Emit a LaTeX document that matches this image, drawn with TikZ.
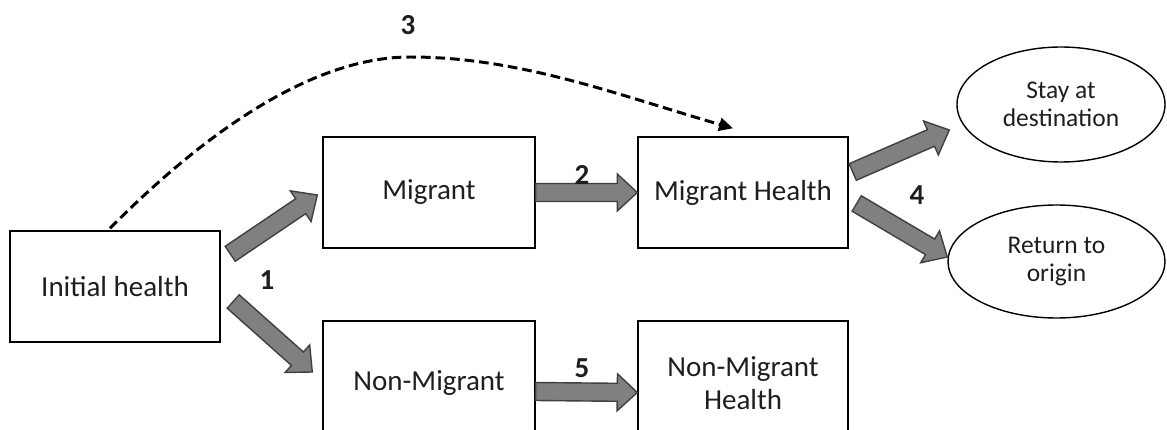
\documentclass[tikz,border=0pt]{standalone}
\usepackage{fontspec}
\setmainfont{Carlito}
\usepackage{tikz}
\usetikzlibrary{arrows.meta,positioning,calc,shapes.geometric}
\usepackage{xcolor}
\definecolor{arrowfill}{RGB}{128,128,128}
\definecolor{arrowline}{RGB}{64,64,64}
\definecolor{textgray}{RGB}{30,30,30}

\newcommand{\fatarrow}[2]{%
  \coordinate (fa-h) at ($(#2)!0.4cm!(#1)$);
  \draw[fat] ($(#1)!0.18cm!90:(#2)$) -- ($(fa-h)!0.18cm!90:(#2)$) -- ($(fa-h)!0.37cm!90:(#2)$) -- (#2)
    -- ($(fa-h)!0.37cm!-90:(#2)$) -- ($(fa-h)!0.18cm!-90:(#2)$) -- ($(#1)!0.18cm!-90:(#2)$) -- cycle;
}

\begin{document}
\begin{tikzpicture}[
    box/.style={draw,line width=0.8pt,minimum width=4.2cm,minimum height=2.22cm,inner sep=0pt,align=center,text=textgray,font=\fontsize{16.5}{18.5}\selectfont},
    oval/.style={draw,ellipse,line width=0.8pt,inner sep=0pt,align=center,text=textgray,font=\fontsize{14.5}{16}\selectfont},
    fat/.style={draw=arrowline,fill=arrowfill,line width=0.8pt,line join=miter},
    num/.style={font=\fontsize{16.5}{18}\selectfont\bfseries,text=textgray},
    >=Stealth
]
\useasboundingbox (0,0) rectangle (23.34,8.6);
\clip (0,0) rectangle (23.34,8.6);

\node[box] (init) at (2.30,2.87) {Initial health};
\node[box,minimum width=4.24cm] (mig) at (8.58,4.75) {Migrant};
\node[box] (mighealth) at (14.86,4.75) {Migrant Health};
\node[box,minimum width=4.24cm,minimum height=2.48cm] (nonmig) at (8.58,0.94) {Non-Migrant};
\node[box,minimum height=2.48cm] (nmhealth) at (14.86,0.94) {Non-Migrant\\Health};
\node[oval,minimum width=4.16cm,minimum height=2.3cm] (stay) at (21.22,6.51) {Stay at\\destination};
\node[oval,minimum width=4.34cm,minimum height=2.26cm] (ret) at (21.13,3.37) {Return to\\origin};

\coordinate (a1s) at ($(init.north east)+(0.19,-0.47)$);
\coordinate (a1e) at ($(mig.west)+(-0.10,-0.05)$);
\coordinate (b1s) at ($(init.east)+(0.25,-0.30)$);
\coordinate (b1e) at ($(nonmig.west)+(-0.20,0.22)$);
\coordinate (a5s) at ($(nonmig.east)+(0,-0.17)$);
\coordinate (a5e) at ($(nmhealth.west)+(0,-0.19)$);
\coordinate (a4s) at ($(mighealth.east)+(0.08,0.41)$);
\coordinate (a4e) at ($(stay.west)+(-0.14,-0.51)$);
\coordinate (b4s) at ($(mighealth.east)+(0.16,-0.22)$);
\coordinate (b4e) at ($(ret.west)+(0,0.09)$);
\coordinate (a3s) at ($(init.north)+(-0.10,0.04)$);
\coordinate (a3e) at ($(mighealth.north)+(-0.20,0.16)$);

\fatarrow{a1s}{a1e}
\fatarrow{b1s}{b1e}
\fatarrow{mig.east}{mighealth.west}
\fatarrow{a5s}{a5e}
\fatarrow{a4s}{a4e}
\fatarrow{b4s}{b4e}

\draw[line width=1.7pt,dash pattern=on 5.5pt off 2.8pt,-{Triangle[length=0.28cm,width=0.26cm]}]
  (a3s) .. controls (3.34,5.18) and (5.80,7.46) .. (8.20,7.46)
  .. controls (10.40,7.46) and (12.36,6.70) .. (a3e);

\node[num] (n1) at (5.34,3.00) {1};
\node[num] (n2) at (11.64,5.10) {2};
\node[num] (n3) at (8.16,8.10) {3};
\node[num] (n4) at (18.34,4.70) {4};
\node[num] (n5) at (11.64,1.24) {5};
\end{tikzpicture}
\end{document}
